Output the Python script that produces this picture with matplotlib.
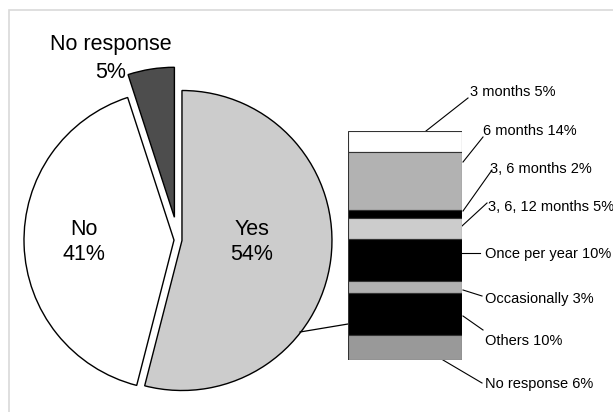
import matplotlib
matplotlib.use("Agg")
import matplotlib.pyplot as plt
from matplotlib.patches import Rectangle

# pie: answer to the main question
pie_labels = ["Yes", "No", "No response"]
pie_values = [54, 41, 5]
pie_colors = ["#cccccc", "#ffffff", "#4d4d4d"]

# bar: breakdown of the "Yes" answers
bar_labels = ["3 months", "6 months", "3, 6 months", "3, 6, 12 months",
              "Once per year", "Occasionally", "Others", "No response"]
bar_values = [5, 14, 2, 5, 10, 3, 10, 6]
bar_colors = ["#ffffff", "#b2b2b2", "#000000", "#cccccc",
              "#000000", "#b2b2b2", "#000000", "#999999"]

W, H = 613, 412
fig = plt.figure(figsize=(W / 100, H / 100), dpi=100)
fig.patch.set_facecolor("white")

# main axes in pixel units, y measured from the top
ax = fig.add_axes([0, 0, 1, 1])
Y = lambda y: H - y

ax.add_patch(Rectangle((9, Y(430)), 620, 420, fill=False,
                       edgecolor="#d9d9d9", lw=1.2, clip_on=True))

regular = ["Liberation Sans", "DejaVu Sans"]

# pie of the three answers, drawn clockwise from 12 o'clock
R = 150
cx, cy = 178, 240
explode = [4, 4, 23]  # pixel offsets along each wedge's middle
ax.pie(pie_values, colors=pie_colors, startangle=90, counterclock=False,
       radius=R, center=(cx, Y(cy)), explode=explode, frame=True,
       wedgeprops=dict(edgecolor="black", linewidth=1.0))
ax.set_xlim(0, W)
ax.set_ylim(0, H)
ax.set_aspect("equal")
ax.axis("off")

fs = 15.5
pie_text_pos = [(252, 235, 260), (84, 235, 260), (111, 50, 78)]
for lab, val, (tx, b1, b2) in zip(pie_labels, pie_values, pie_text_pos):
    ax.text(tx, Y(b1), lab, ha="center", va="baseline", fontsize=fs, family=regular)
    ax.text(tx, Y(b2), f"{val}%", ha="center", va="baseline", fontsize=fs, family=regular)

# stacked bar in its own axes
bx0, bx1, by0, by1 = 348, 462, 131, 360
bax = fig.add_axes([bx0 / W, (H - by1) / H, (bx1 - bx0) / W, (by1 - by0) / H])
total = sum(bar_values)
bottom = 0
for v, c in zip(bar_values, bar_colors):
    bax.bar(0.5, v, width=1.0, bottom=bottom, color=c,
            edgecolor="#333333", linewidth=0.8)
    bottom += v
bax.set_xlim(0, 1)
bax.set_ylim(total, 0)
bax.axis("off")

# connector from the pie to the bar
ax.plot([300, 348], [Y(332), Y(324)], color="black", lw=0.9)

# bar labels with leader lines
label_pos = [(470, 96), (483, 135), (490, 173), (488, 211),
             (485, 258), (485, 303), (485, 345), (485, 388)]
leaders = [((426, 131), (468, 98)), ((463, 162), (483, 137)),
           ((463, 211), (492, 170)), ((462, 226), (487, 203)),
           ((462, 253), (480, 253)), ((463, 290), (482, 296)),
           ((463, 316), (483, 330)), ((443, 360), (482, 383))]
for lab, val, (lx, lb), (p0, p1) in zip(bar_labels, bar_values, label_pos, leaders):
    ax.plot([p0[0], p1[0]], [Y(p0[1]), Y(p1[1])], color="black", lw=0.8)
    ax.text(lx, Y(lb), f"{lab} {val}%", ha="left", va="baseline",
            fontsize=10.5, family=regular)

fig.savefig("out.png", dpi=100)
